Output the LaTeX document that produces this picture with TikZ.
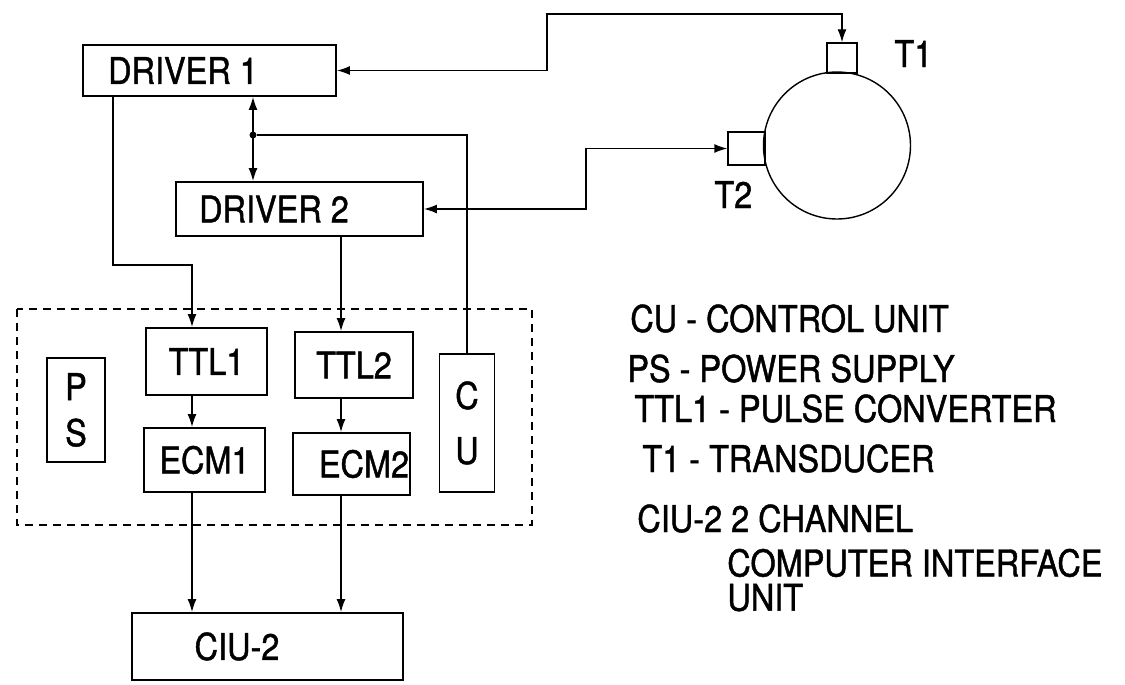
\documentclass[tikz,border=0pt]{standalone}
\usepackage{fontspec}
\setmainfont{TeX Gyre Heros}[FakeStretch=0.88,FakeBold=1.2]
\usetikzlibrary{arrows.meta,calc}

\begin{document}
\begin{tikzpicture}[
    x=0.2mm, y=-0.2mm,
    font=\fontsize{21}{25}\selectfont,
    >=Latex,
    wire/.style={line width=0.8pt},
    arrow/.style={wire,-{Latex[length=2.6mm,width=1.8mm]}},
    twoway/.style={wire,{Latex[length=2.6mm,width=1.8mm]}-{Latex[length=2.6mm,width=1.8mm]}},
    wh/.style 2 args={minimum width=#1*0.2mm, minimum height=#2*0.2mm},
    blk/.style={draw, line width=1.1pt, inner sep=0pt},
    probe/.style={draw, line width=0.8pt, inner sep=0pt},
    dot/.style={circle, fill, inner sep=0pt, minimum size=1.4mm},
    frame/.style={line width=1pt, dash pattern=on 1.6mm off 1.2mm},
    legend/.style={anchor=base west, inner sep=0pt}
  ]

  \path[use as bounding box] (0,0) rectangle (1125,685);

  % signal lanes
  \coordinate (p1) at (113,265);
  \coordinate (laneA) at (192,265);
  \coordinate (laneB) at (341,265);

  % =====================================================
  % DRIVERS
  % =====================================================
  \node[blk, wh={253}{51}] (drv1) at (209.5,70.5) {DRIVER 1\hspace*{10.6mm}};
  \node[blk, wh={247}{54}] (drv2) at (299.5,209) {DRIVER 2\hspace*{10.2mm}};

  \node[dot] (jn) at (253,135) {};

  % =====================================================
  % UNIT (dashed)
  % =====================================================
  \draw[frame] (17,309) rectangle (532,525);

  \node[blk, wh={58}{104}, align=center] (ps) at (76,410) {P\\[1.2pt]S};
  \node[blk, wh={121}{67}] (ttl1) at (206.5,361.5) {TTL1};
  \node[blk, wh={121}{64}] (ecm1) at (204.5,460) {ECM1};
  \node[blk, wh={118}{66}] (ttl2) at (354,365) {TTL2};
  \node[blk, wh={117}{62}] (ecm2) at (351.5,464) {\hspace*{5mm}ECM2};
  \node[blk, wh={55}{138}, align=center] (cu) at (467,423) {C\\[6.3pt]U};

  \node[blk, wh={271}{67}] (ciu) at (267.5,646.5) {CIU-2\hspace*{12.2mm}};

  % =====================================================
  % VESSEL + TRANSDUCERS
  % =====================================================
  \node[draw, line width=0.8pt, circle, minimum size=147*0.2mm] (tank) at (837,145.5) {};
  \node[probe, wh={30}{30}] (t1) at (842,58) {};
  \node[probe, wh={37}{33}] (t2) at (746.5,148.5) {};

  \node[legend] (t1lab) at (894,67) {T1};
  \node[legend] (t2lab) at (714,208) {T2};

  % =====================================================
  % CONNECTIONS
  % =====================================================
  \draw[twoway] (drv1.east) -| (547,14) -| (t1.north);
  \draw[twoway] (drv2.east) -| (586,148.5) -- (t2.west);

  \draw[twoway] (drv1.south -| jn) -- (drv2.north -| jn);
  \draw[wire] (jn) -| (cu.north);

  \draw[arrow] (drv1.south -| p1) |- (laneA) -- (ttl1.north -| laneA);
  \draw[arrow] (drv2.south -| laneB) -- (ttl2.north -| laneB);

  \draw[arrow] (ttl1.south -| laneA) -- (ecm1.north -| laneA);
  \draw[arrow] (ttl2.south -| laneB) -- (ecm2.north -| laneB);

  \draw[arrow] (ecm1.south -| laneA) -- (ciu.north -| laneA);
  \draw[arrow] (ecm2.south -| laneB) -- (ciu.north -| laneB);

  % =====================================================
  % LEGEND
  % =====================================================
  \node[legend] (leg1) at (630,332) {CU - CONTROL UNIT};
  \node[legend] (leg2) at (627,382) {PS - POWER SUPPLY};
  \node[legend] (leg3) at (634,422) {TTL1 - PULSE CONVERTER};
  \node[legend] (leg4) at (642,472) {T1 - TRANSDUCER};
  \node[legend] (leg5) at (637,532) {CIU-2 2 CHANNEL};
  \node[legend, anchor=north west, align=left,
        font=\fontsize{21}{19.5}\selectfont] (leg6) at (727,548.5)
        {COMPUTER INTERFACE\\UNIT};

\end{tikzpicture}
\end{document}
